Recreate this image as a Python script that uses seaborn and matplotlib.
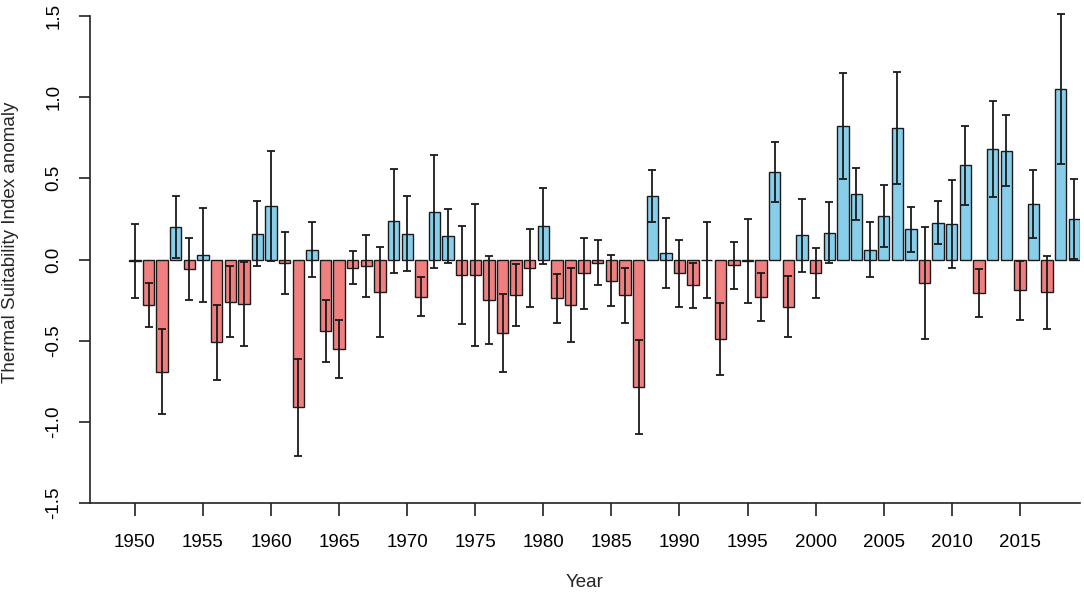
import numpy as np
import pandas as pd
import matplotlib
matplotlib.use("Agg")
import matplotlib.pyplot as plt
import seaborn as sns

years = list(range(1950, 2020))
anomaly = [
    -0.01, -0.28, -0.69, 0.20, -0.06, 0.03, -0.51, -0.26, -0.275, 0.16,
    0.33, -0.02, -0.91, 0.06, -0.44, -0.55, -0.05, -0.04, -0.20, 0.235,
    0.16, -0.23, 0.295, 0.145, -0.095, -0.095, -0.25, -0.45, -0.22, -0.05,
    0.205, -0.24, -0.28, -0.085, -0.02, -0.13, -0.22, -0.785, 0.39, 0.04,
    -0.085, -0.16, -0.005, -0.49, -0.035, -0.008, -0.23, 0.54, -0.29, 0.15,
    -0.086, 0.166, 0.825, 0.405, 0.06, 0.27, 0.81, 0.185, -0.144, 0.228,
    0.218, 0.58, -0.207, 0.68, 0.67, -0.19, 0.343, -0.203, 1.05, 0.25,
]
error = [
    0.23, 0.135, 0.26, 0.19, 0.19, 0.29, 0.23, 0.22, 0.26, 0.20,
    0.34, 0.19, 0.30, 0.17, 0.19, 0.18, 0.10, 0.19, 0.28, 0.32,
    0.23, 0.12, 0.35, 0.165, 0.30, 0.44, 0.27, 0.24, 0.19, 0.24,
    0.235, 0.15, 0.23, 0.22, 0.14, 0.155, 0.17, 0.29, 0.16, 0.215,
    0.205, 0.14, 0.235, 0.22, 0.145, 0.26, 0.15, 0.185, 0.19, 0.225,
    0.154, 0.19, 0.327, 0.16, 0.17, 0.19, 0.347, 0.14, 0.345, 0.13,
    0.27, 0.245, 0.15, 0.297, 0.22, 0.18, 0.21, 0.226, 0.46, 0.247,
]
tick_years = [1950, 1955, 1960, 1965, 1970, 1975, 1980, 1985, 1990, 1995,
              2000, 2005, 2010, 2015]
y_ticks = [-1.5, -1.0, -0.5, 0.0, 0.5, 1.0, 1.5]

df = pd.DataFrame({"year": [str(y) for y in years], "anomaly": anomaly,
                   "error": error})
df["sign"] = np.where(df["anomaly"] >= 0, "pos", "neg")

sns.set_style("ticks")
plt.rcParams["font.family"] = ["Liberation Sans", "DejaVu Sans"]

fig = plt.figure(figsize=(10.84, 5.96), dpi=100)
ax = fig.add_axes([90 / 1084, 1 - 503 / 596, 990 / 1084, 496.7 / 596])

sns.barplot(data=df, x="year", y="anomaly", hue="sign",
            palette={"pos": "#87CEEB", "neg": "#F08080"}, dodge=False,
            saturation=1, width=0.835, edgecolor="#1a1a1a", linewidth=1.0,
            legend=False, errorbar=None, ax=ax,
            order=[str(y) for y in years])

pos = np.arange(len(years))
ax.errorbar(pos, df["anomaly"], yerr=df["error"], fmt="none",
            ecolor="#1a1a1a", elinewidth=1.3, capsize=3, capthick=1.3,
            zorder=5)

ax.set_xlim(-3.3, len(years) - 1 + 0.42)
ax.set_ylim(-1.5, 1.56)

ax.set_xticks([years.index(y) for y in tick_years])
ax.set_xticklabels([str(y) for y in tick_years])
ax.set_yticks(y_ticks)
ax.set_yticklabels([f"{v:.1f}" for v in y_ticks], rotation=90, va="center")

for s in ["top", "right"]:
    ax.spines[s].set_visible(False)
ax.spines["left"].set_bounds(-1.5, 1.5)
ax.spines["left"].set_linewidth(1.2)
ax.spines["bottom"].set_linewidth(1.2)
ax.spines["left"].set_color("#222222")
ax.spines["bottom"].set_color("#222222")

ax.tick_params(axis="x", length=9, width=1.2, pad=13, labelsize=13.5,
               colors="#222222", labelcolor="black")
ax.tick_params(axis="y", length=8, width=1.2, pad=12, labelsize=13.5,
               colors="#222222", labelcolor="black")

ax.set_xlabel("Year", fontsize=13.5)
ax.set_ylabel("Thermal Suitability Index anomaly", fontsize=13.5)
ax.xaxis.set_label_coords(0.5, -0.142)
ax.yaxis.set_label_coords(-0.0715, 0.525)

fig.savefig("out.png", dpi=100)
